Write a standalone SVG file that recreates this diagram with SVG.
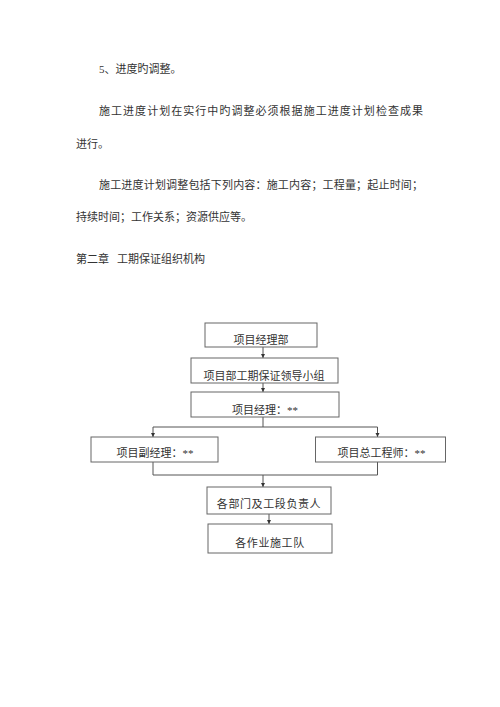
<svg xmlns="http://www.w3.org/2000/svg" width="500" height="707" viewBox="0 0 500 707">
<defs>
<style>
.t{font-family:"Liberation Serif","Noto Sans CJK SC",serif;font-size:11px;fill:#333}
.b{fill:#fff;stroke:#666;stroke-width:1}
.bt{font-family:"Liberation Serif","Noto Sans CJK SC",serif;font-size:11px;fill:#333;text-anchor:middle}
.c{fill:none;stroke:#555;stroke-width:1}
</style>
<marker id="ah" viewBox="0 0 8 8" refX="8" refY="4" markerWidth="4.5" markerHeight="4.5" orient="auto" markerUnits="userSpaceOnUse">
<path d="M0,0 L8,4 L0,8 Z" fill="#333"/>
</marker>
</defs>
<rect width="500" height="707" fill="#fff"/>
<text class="t" x="99" y="73">5、进度旳调整。</text>
<text class="t" x="99" y="115" textLength="324" lengthAdjust="spacing">施工进度计划在实行中旳调整必须根据施工进度计划检查成果</text>
<text class="t" x="76" y="148">进行。</text>
<text class="t" x="99" y="189" textLength="324" lengthAdjust="spacing">施工进度计划调整包括下列内容：施工内容；工程量；起止时间；</text>
<text class="t" x="76" y="221">持续时间；工作关系；资源供应等。</text>
<text class="t" x="76" y="263">第二章<tspan x="117">工期保证组织机构</tspan></text>
<g id="connectors">
<path class="c" d="M263,347 V358" marker-end="url(#ah)"/>
<path class="c" d="M263,383 V392" marker-end="url(#ah)"/>
<path class="c" d="M263,417 V427 M153,427 H377.5"/>
<path class="c" d="M153,427 V437" marker-end="url(#ah)"/>
<path class="c" d="M377.5,427 V437" marker-end="url(#ah)"/>
<path class="c" d="M153,462 V475 H377.5 V462"/>
<path class="c" d="M263,475 V487" marker-end="url(#ah)"/>
<path class="c" d="M269,514 V524" marker-end="url(#ah)"/>
</g>
<g id="n1"><rect class="b" x="205" y="323" width="112" height="24"/><text class="bt" x="261" y="344">项目经理部</text></g>
<g id="n2"><rect class="b" x="191" y="358" width="147" height="25"/><text class="bt" x="264" y="380">项目部工期保证领导小组</text></g>
<g id="n3"><rect class="b" x="191" y="392" width="148" height="25"/><text class="bt" x="265" y="414">项目经理：**</text></g>
<g id="n4"><rect class="b" x="91" y="437" width="127" height="25"/><text class="bt" x="155" y="457">项目副经理：**</text></g>
<g id="n5"><rect class="b" x="315.5" y="437" width="130" height="25"/><text class="bt" x="381.5" y="457">项目总工程师：**</text></g>
<g id="n6"><rect class="b" x="207" y="487" width="124" height="27"/><text class="bt" x="269" y="508" letter-spacing="0.6">各部门及工段负责人</text></g>
<g id="n7"><rect class="b" x="208" y="524" width="124" height="29"/><text class="bt" x="270" y="547" letter-spacing="0.6">各作业施工队</text></g>
</svg>
